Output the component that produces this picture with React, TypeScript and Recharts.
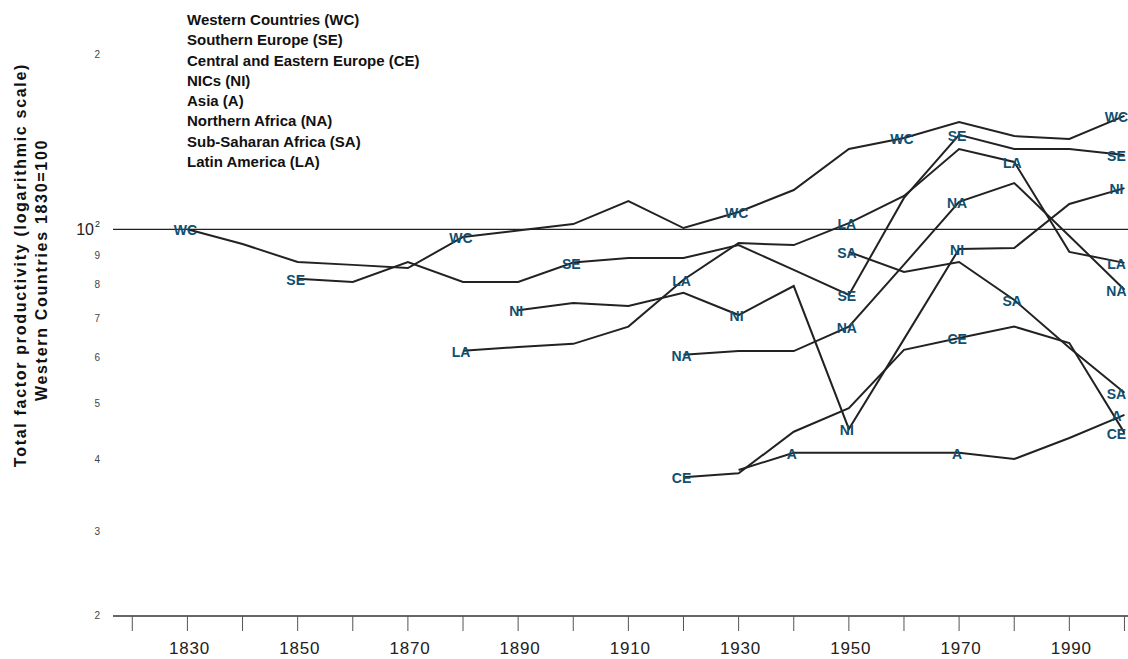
import React from 'react';
import { LineChart, Line, XAxis, YAxis, ReferenceLine, LabelList } from 'recharts';

// decades on the x axis, one value per decade 1830..2000
const years = [1830, 1840, 1850, 1860, 1870, 1880, 1890, 1900, 1910, 1920, 1930, 1940, 1950, 1960, 1970, 1980, 1990, 2000];

const wc = [100, 94.3, 87.8, 86.8, 85.7, 97.0, 99.5, 102.1, 111.9, 100.5, 107.1, 116.9, 137.6, 143.8, 153.2, 144.9, 143.2, 157];
const se = [null, null, 82.1, 81.1, 87.8, 81.1, 81.1, 87.6, 89.2, 89.2, 93.9, 85.1, 77.0, 113.3, 145.6, 137.6, 137.6, 134.4];
const ce = [null, null, null, null, null, null, null, null, null, 37.3, 37.9, 44.7, 49.1, 61.9, 64.9, 67.9, 63.6, 44.5];
const ni = [null, null, null, null, null, null, 72.5, 74.6, 73.7, 77.7, 71.1, 79.8, 45.2, 64.6, 92.5, 92.8, 110.6, 117.8];
const asia = [null, null, null, null, null, null, null, null, null, null, 38.4, 41.1, 41.1, 41.1, 41.1, 40.1, 43.6, 47.8];
const na = [null, null, null, null, null, null, null, null, null, 60.7, 61.6, 61.6, 67.9, 86.9, 111.5, 120.2, 97.4, 78.6];
const sa = [null, null, null, null, null, null, null, null, null, null, null, null, 91.4, 84.4, 87.8, 75.5, 62.4, 52.2];
const la = [null, null, null, null, null, 61.7, 62.6, 63.4, 67.9, 81.8, 94.7, 93.9, 102.5, 114.2, 137.6, 130.7, 91.4, 87.5];

// where each short code is printed along its line
const wcLabels = [1830, 1880, 1930, 1960, 2000];
const seLabels = [1850, 1900, 1950, 1970, 2000];
const ceLabels = [1920, 1970, 2000];
const niLabels = [1890, 1930, 1950, 1970, 2000];
const aLabels = [1940, 1970, 2000];
const naLabels = [1920, 1950, 1970, 2000];
const saLabels = [1950, 1980, 2000];
const laLabels = [1880, 1920, 1950, 1980, 2000];

const legendNames = [
  'Western Countries (WC)',
  'Southern Europe (SE)',
  'Central and Eastern Europe (CE)',
  'NICs (NI)',
  'Asia (A)',
  'Northern Africa (NA)',
  'Sub-Saharan Africa (SA)',
  'Latin America (LA)',
];

const xTicks = [1820, 1830, 1840, 1850, 1860, 1870, 1880, 1890, 1900, 1910, 1920, 1930, 1940, 1950, 1960, 1970, 1980, 1990, 2000];
const xTickLabels = [1830, 1850, 1870, 1890, 1910, 1930, 1950, 1970, 1990];

const yTicks = [21.48, 30, 40, 50, 60, 70, 80, 90, 100, 200];
const yTickLabels = ['2', '3', '4', '5', '6', '7', '8', '9', '10', '2'];

const series = [
  { key: 'WC', values: wc, labels: wcLabels },
  { key: 'SE', values: se, labels: seLabels },
  { key: 'CE', values: ce, labels: ceLabels },
  { key: 'NI', values: ni, labels: niLabels },
  { key: 'A', values: asia, labels: aLabels },
  { key: 'NA', values: na, labels: naLabels },
  { key: 'SA', values: sa, labels: saLabels },
  { key: 'LA', values: la, labels: laLabels },
];

const rows = years.map((year, i) => {
  const row: any = { year };
  series.forEach((s) => { row[s.key] = s.values[i]; });
  return row;
});

const FONT = 'Liberation Sans, Arial, sans-serif';

function XTick(props: any) {
  const { x, payload } = props;
  if (!xTickLabels.includes(payload.value)) return null;
  return (
    <text x={x + 2} y={654} textAnchor="middle" fontFamily={FONT} fontSize={17} letterSpacing={0.8} fill="#222">
      {payload.value}
    </text>
  );
}

function YTick(props: any) {
  const { y, index } = props;
  const label = yTickLabels[index];
  if (label === '10') {
    return (
      <text x={100} y={y + 6} textAnchor="end" fontFamily={FONT} fontSize={16} fill="#222">
        10<tspan fontSize={9} dx={1} dy={-8}>2</tspan>
      </text>
    );
  }
  return (
    <text x={100} y={y + 3} textAnchor="end" fontFamily={FONT} fontSize={10} fill="#444">
      {label}
    </text>
  );
}

function YTitle() {
  return (
    <g fontFamily={FONT} fontWeight="bold" fontSize={16} letterSpacing={1.7} fill="#111">
      <text x={20} y={265} transform="rotate(-90 20 265)" textAnchor="middle" dominantBaseline="central">
        Total factor productivity (logarithmic scale)
      </text>
      <text x={41} y={270} transform="rotate(-90 41 270)" textAnchor="middle" dominantBaseline="central">
        Western Countries 1830=100
      </text>
    </g>
  );
}

function makeLabel(code: string, labelYears: number[]) {
  return (props: any) => {
    const { x, y, index } = props;
    if (x == null || y == null || !labelYears.includes(years[index])) return null;
    const last = index === years.length - 1;
    return (
      <text x={last ? x - 8 : x - 2} y={y + 1} textAnchor="middle" dominantBaseline="central" fontFamily={FONT} fontWeight="bold" fontSize={14} fill="#0f4f71">
        {code}
      </text>
    );
  };
}

export default function App() {
  return (
    <div style={{ position: 'fixed', left: 0, top: 0, width: 1128, height: 659, overflow: 'hidden', background: '#fff' }}>
      <LineChart width={1160} height={659} data={rows} margin={{ top: 55, right: 19, bottom: 0, left: 0 }}>
        <XAxis
          type="number"
          dataKey="year"
          domain={[1816.5, 2003]}
          ticks={xTicks}
          interval={0}
          allowDataOverflow
          height={43}
          tickSize={15}
          axisLine={{ stroke: '#333', strokeWidth: 1.5 }}
          tickLine={{ stroke: '#555' }}
          tick={(p: any) => <XTick {...p} />}
        />
        <YAxis
          scale="log"
          domain={[21.48, 200]}
          ticks={yTicks}
          interval={0}
          allowDataOverflow
          width={113}
          axisLine={false}
          tickLine={false}
          tick={(p: any) => <YTick {...p} />}
          label={{ content: () => <YTitle /> }}
        />
        <ReferenceLine y={100} stroke="#222" strokeWidth={1.2} />
        {series.map((s) => (
          <Line
            key={s.key}
            type="linear"
            dataKey={s.key}
            stroke="#222"
            strokeWidth={2}
            dot={false}
            isAnimationActive={false}
          >
            <LabelList dataKey={s.key} content={makeLabel(s.key, s.labels)} />
          </Line>
        ))}
      </LineChart>
      <div
        style={{
          position: 'absolute',
          left: 187,
          top: 10,
          fontFamily: FONT,
          fontWeight: 'bold',
          fontSize: 15,
          lineHeight: '20.3px',
          color: '#111',
        }}
      >
        {legendNames.map((n) => (
          <div key={n}>{n}</div>
        ))}
      </div>
    </div>
  );
}
